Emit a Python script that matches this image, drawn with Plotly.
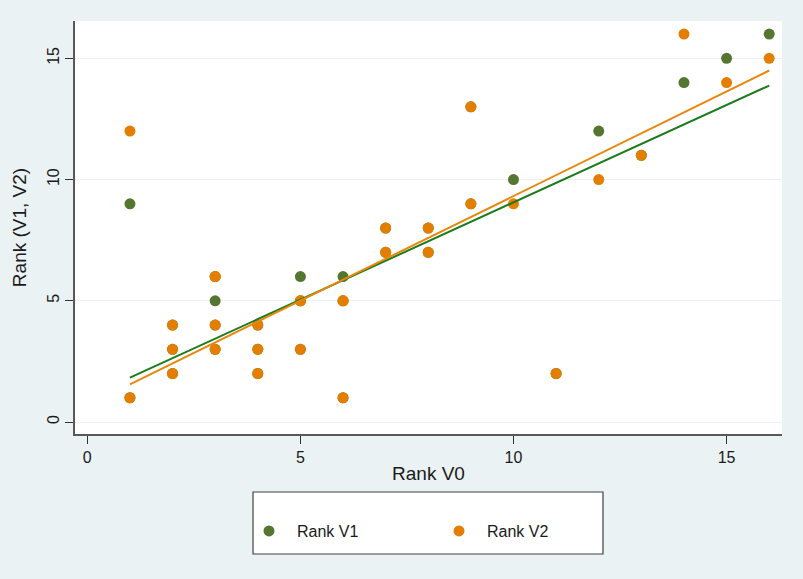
import plotly.graph_objects as go

# ---- data ----
v0 = [1, 1, 2, 2, 2, 3, 3, 3, 3, 4, 4, 4, 5, 5, 5, 6, 6, 6, 7, 7, 8, 8, 9, 9, 10, 11, 12, 13, 14, 15, 16]
rank_v1 = [9, 1, 4, 3, 2, 5, 6, 4, 3, 4, 3, 2, 6, 5, 3, 6, 5, 1, 8, 7, 8, 7, 13, 9, 10, 2, 12, 11, 14, 15, 16]
rank_v2 = [12, 1, 4, 3, 2, 6, 6, 4, 3, 4, 3, 2, 5, 5, 3, 5, 5, 1, 8, 7, 8, 7, 13, 9, 9, 2, 10, 11, 16, 14, 15]

# linear fits (intercept, slope)
fit_v1 = (1.03, 0.803)
fit_v2 = (0.69, 0.863)

x_ticks = [0, 5, 10, 15]
y_ticks = [0, 5, 10, 15]

names = ["Rank V1", "Rank V2"]
marker_colors = ["#557630", "#E37E00"]
line_colors = ["#1B7A1B", "#E8870C"]

FONT = "Liberation Sans, Arial, Helvetica, sans-serif"

fig = go.Figure()
for y, name, col in zip([rank_v1, rank_v2], names, marker_colors):
    fig.add_trace(go.Scatter(
        x=v0, y=y, mode="markers", name=name,
        marker=dict(color=col, size=11, line=dict(width=0)),
    ))

xmin, xmax = min(v0), max(v0)
for (a, b), col in zip([fit_v1, fit_v2], line_colors):
    fig.add_trace(go.Scatter(
        x=[xmin, xmax], y=[a + b * xmin, a + b * xmax], mode="lines",
        line=dict(color=col, width=2), showlegend=False, hoverinfo="skip",
    ))

bg = "#EAF2F3"
fig.update_layout(
    width=803, height=579,
    margin=dict(l=75, r=21, t=21, b=145),
    paper_bgcolor=bg, plot_bgcolor="white",
    font=dict(family=FONT, size=16, color="#1a1a1a"),
    showlegend=True,
    legend=dict(
        orientation="h", x=0.2348, xanchor="left", y=-0.235, yanchor="middle",
        bgcolor="rgba(0,0,0,0)", borderwidth=0,
        itemwidth=46,
        entrywidth=129, entrywidthmode="pixels",
        font=dict(family=FONT, size=16, color="#1a1a1a"),
    ),
    shapes=[dict(
        type="rect", xref="paper", yref="paper",
        x0=0.2518, x1=0.7468, y0=-0.2906, y1=-0.1404,
        fillcolor="white", line=dict(color="#404040", width=1.2), layer="below",
    )],
)
fig.update_xaxes(
    range=[-0.289, 16.30], tickvals=x_ticks, ticks="outside", ticklen=8,
    tickcolor="#333333", tickwidth=1.2, showgrid=False, zeroline=False,
    showline=True, linecolor="#595959", linewidth=1.5,
    title=dict(text="Rank V0", standoff=2), ticklabelstandoff=0,
)
fig.update_yaxes(
    range=[-0.495, 16.54], tickvals=y_ticks, ticks="outside", ticklen=8,
    tickcolor="#333333", tickwidth=1.2, tickangle=-90,
    showgrid=True, gridcolor=bg, gridwidth=1.2, zeroline=False,
    showline=True, linecolor="#595959", linewidth=1.5,
    title=dict(text="Rank (V1, V2)", standoff=13),
)

fig.write_html(
    "out.html",
    config={"displayModeBar": False},
    post_script="document.body.style.margin='0px';document.body.style.background='#EAF2F3';",
)
